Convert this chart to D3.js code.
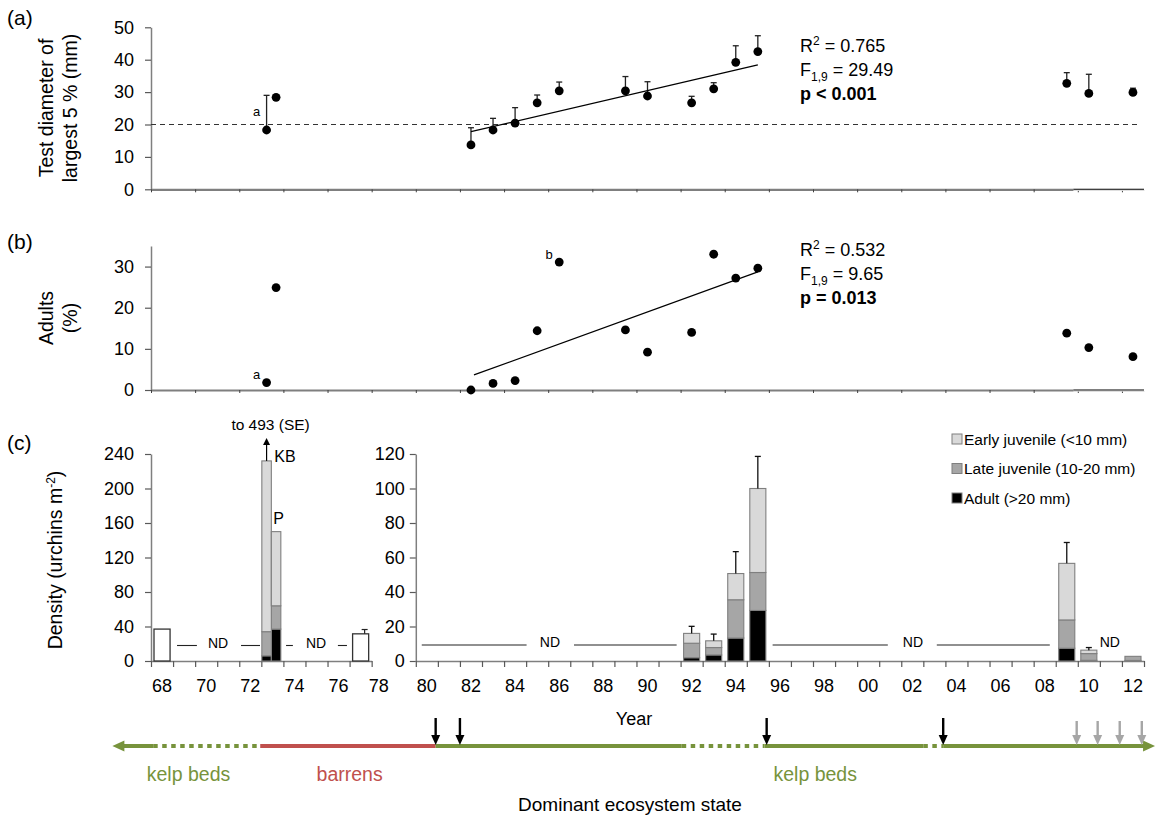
<!DOCTYPE html>
<html>
<head>
<meta charset="utf-8">
<script src="https://cdn.jsdelivr.net/npm/d3@7"></script>
<style>
  body { margin: 0; background: #fff; }
  svg { font-family: "Liberation Sans", Arial, sans-serif; display: block; }
</style>
</head>
<body>
<svg id="chart" width="1157" height="820"></svg>
<script>
// ---------------- data ----------------
// Survey years (1973 sampled at two sites: kelp bed KB and P)
const sampleYears = [1973, 1973, 1982, 1983, 1984, 1985, 1986, 1989, 1990, 1992, 1993, 1994, 1995, 2009, 2010, 2012];
const sampleSites = ["KB", "P", null, null, null, null, null, null, null, null, null, null, null, null, null, null];
// (a) test diameter of largest 5 % (mm) and its SE
const testDiameter   = [18.3, 28.4, 13.7, 18.3, 20.4, 26.7, 30.4, 30.4, 28.8, 26.7, 31.0, 39.2, 42.5, 32.7, 29.6, 29.9];
const testDiameterSE = [10.7, 0, 5.3, 3.6, 4.8, 2.4, 2.7, 4.4, 4.4, 2.0, 1.9, 5.1, 4.9, 3.3, 5.9, 1.3];
// (b) adults (%)
const adultPercent   = [1.8, 24.9, 0, 1.6, 2.3, 14.4, 31.1, 14.6, 9.2, 14.0, 33.0, 27.2, 29.6, 13.8, 10.3, 8.1];
// years used in the regressions
const regressionFrom = 1982, regressionTo = 1995;
const maturityThreshold = 20;

// (c) densities (urchins m-2), stacked by size class
const stackYears   = [1973, 1973, 1992, 1993, 1994, 1995, 2009, 2010, 2012];
const stackSites   = ["KB", "P", null, null, null, null, null, null, null];
const adultDensity = [6, 37, 1.9, 3.5, 13.3, 29.3, 7.4, 0.4, 0.3];
const lateDensity  = [28, 27, 8.4, 4.3, 22.2, 22.0, 16.4, 3.9, 2.4];
const earlyDensity = [198, 86, 5.7, 3.9, 15.2, 48.7, 32.8, 2.0, 0];
const stackSE      = [261, 0, 4.1, 3.9, 12.7, 18.6, 12.1, 1.5, 0];
// (c) total density only (no size classes)
const totalYears   = [1968, 1977];
const totalDensity = [37, 31.5];
const totalSE      = [0, 5];

const sizeKeys   = ["adult", "late", "early"];
const sizeLabels = { early: "Early juvenile (<10 mm)", late: "Late juvenile (10-20 mm)", adult: "Adult (>20 mm)" };
const sizeColors = { early: "#d9d9d9", late: "#a6a6a6", adult: "#000000" };

// no-data stretches (year positions)
const ndLeftSegments  = [[1969.18, 1970.08], [1972.08, 1972.94], [1974.12, 1974.43], [1976.47, 1976.88]];
const ndLeftLabels    = [1971.04, 1975.48];
const ndRightSegments = [[1980.27, 1985.02], [1987.17, 1991.82], [1996.17, 2001.39], [2003.61, 2008.73]];
const ndRightLabels   = [1986.08, 2002.53, 2011.45];

// dominant ecosystem state through time
const stateStart   = [1966.25, 1968.1, 1972.95, 1980.9, 1992.05, 1995.8, 2003.0, 2003.9];
const stateEnd     = [1968.1, 1972.95, 1980.9, 1992.05, 1995.8, 2003.0, 2003.9, 2013.5];
const stateKind    = ["kelp", "kelp", "barrens", "kelp", "kelp", "kelp", "kelp", "kelp"];
const stateCertain = [true, false, true, true, false, true, false, true];
const eventsMajor  = [1980.9, 1982.0, 1995.9, 2003.9];
const eventsMinor  = [2009.95, 2010.9, 2011.9, 2012.9];
const stateNames   = [{ text: "kelp beds", year: 1969.7, kind: "kelp" }, { text: "barrens", year: 1977.0, kind: "barrens" }, { text: "kelp beds", year: 1998.1, kind: "kelp" }];
const stateColors  = { kelp: "#77933c", barrens: "#c0504d" };

// ---------------- scales ----------------
const svg = d3.select("#chart");
const years = d3.range(1968, 2013);
const x = d3.scaleBand().domain(years).range([151, 1144]);
const t = d3.scaleLinear().domain([1968, 2013]).range([151, 1144]);
const site = d3.scaleBand().domain(["KB", "P"]).range([0.5, 19.5]);
const cx = (yv, s) => s ? x(yv) + site(s) + site.bandwidth() / 2 : x(yv) + x.bandwidth() / 2;

const AXIS_GREY = "#7f7f7f";
function styleAxis(g, size) {
  g.select(".domain").attr("stroke", AXIS_GREY).attr("stroke-width", 1.5);
  g.selectAll(".tick line").attr("stroke", "#595959").attr("stroke-width", 1.2);
  g.selectAll(".tick text").attr("fill", "#000").attr("font-size", size || 18).attr("font-family", "Liberation Sans, Arial, sans-serif");
}

const samples = sampleYears.map((yv, i) => ({ year: yv, site: sampleSites[i], diam: testDiameter[i], se: testDiameterSE[i], adult: adultPercent[i] }));

function fit(rows, key) {
  const r = rows.filter(d => d.year >= regressionFrom && d.year <= regressionTo);
  const mx = d3.mean(r, d => d.year), my = d3.mean(r, d => d[key]);
  const b = d3.sum(r, d => (d.year - mx) * (d[key] - my)) / d3.sum(r, d => (d.year - mx) ** 2);
  const a = my - b * mx;
  return [regressionFrom, regressionTo].map(xv => ({ year: xv, v: a + b * xv }));
}

function panelLabel(txt, yPos) {
  svg.append("text").attr("x", 7).attr("y", yPos).attr("font-size", 21).text(txt);
}

function yTitle(lines, cy) {
  const g = svg.append("text").attr("transform", `translate(0,${cy}) rotate(-90)`)
    .attr("text-anchor", "middle").attr("font-size", 19.5);
  lines.forEach((l, i) => g.append("tspan").attr("x", 0).attr("y", 53 + i * 24).text(l));
}

function stats(x0, y0, r2, f, pText) {
  const g = svg.append("g").attr("font-size", 18);
  const a = g.append("text").attr("x", x0).attr("y", y0);
  a.append("tspan").text("R");
  a.append("tspan").attr("dy", -7).attr("font-size", 12).text("2");
  a.append("tspan").attr("dy", 7).text(" = " + r2);
  const b = g.append("text").attr("x", x0).attr("y", y0 + 24);
  b.append("tspan").text("F");
  b.append("tspan").attr("dy", 5).attr("font-size", 12).text("1,9");
  b.append("tspan").attr("dy", -5).text(" = " + f);
  g.append("text").attr("x", x0).attr("y", y0 + 48).attr("font-weight", "bold").text(pText);
}

function scatterXAxis(yPix) {
  const g = svg.append("g").attr("transform", `translate(0,${yPix})`)
    .call(d3.axisBottom(t).tickValues(d3.range(1968, 2014, 2)).tickSize(3).tickSizeOuter(0).tickFormat(""));
  g.select(".domain").attr("stroke", AXIS_GREY).attr("stroke-width", 2.2);
  g.selectAll(".tick line").attr("stroke", "#404040");
  // the most recent stretch of the axis is drawn as a thin black rule
  svg.append("line").attr("x1", t(2009.8)).attr("x2", t(2013) + 1).attr("y1", yPix).attr("y2", yPix)
    .attr("stroke", "#fff").attr("stroke-width", 3);
  svg.append("line").attr("x1", t(2009.8)).attr("x2", t(2013)).attr("y1", yPix).attr("y2", yPix)
    .attr("stroke", "#000").attr("stroke-width", 1.1);
}

// ---------------- (a) test diameter ----------------
const yA = d3.scaleLinear().domain([0, 50]).range([189.3, 27.3]);
panelLabel("(a)", 25);
yTitle(["Test diameter of", "largest 5 % (mm)"], 108);
svg.append("g").attr("transform", "translate(151,0)")
  .call(d3.axisLeft(yA).tickValues(d3.range(0, 51, 10)).tickSize(6).tickSizeOuter(0).tickPadding(11))
  .call(g => styleAxis(g));
scatterXAxis(yA(0));

svg.append("line").attr("x1", t(1968)).attr("x2", t(2012.7))
  .attr("y1", yA(maturityThreshold)).attr("y2", yA(maturityThreshold))
  .attr("stroke", "#333").attr("stroke-width", 1.1).attr("stroke-dasharray", "5,4");

const errA = svg.append("g").attr("stroke", "#222").attr("stroke-width", 1.3);
samples.filter(d => d.se > 0).forEach(d => {
  const xx = cx(d.year, d.site);
  errA.append("line").attr("x1", xx).attr("x2", xx).attr("y1", yA(d.diam)).attr("y2", yA(d.diam + d.se));
  errA.append("line").attr("x1", xx - 3).attr("x2", xx + 3).attr("y1", yA(d.diam + d.se)).attr("y2", yA(d.diam + d.se));
});
svg.append("g").selectAll("circle").data(samples).join("circle")
  .attr("cx", d => cx(d.year, d.site)).attr("cy", d => yA(d.diam)).attr("r", 4.4).attr("fill", "#000");
const lineA = fit(samples, "diam");
svg.append("line").attr("x1", cx(lineA[0].year)).attr("x2", cx(lineA[1].year))
  .attr("y1", yA(lineA[0].v)).attr("y2", yA(lineA[1].v)).attr("stroke", "#000").attr("stroke-width", 1.3);
svg.append("text").attr("x", cx(1973, "KB") - 10).attr("y", yA(testDiameter[0] + testDiameterSE[0] / 2) + 3)
  .attr("font-size", 13).attr("text-anchor", "middle").text("a");
stats(800, 52, "0.765", "29.49", "p < 0.001");

// ---------------- (b) adults ----------------
const yB = d3.scaleLinear().domain([0, 35]).range([390, 246]);
panelLabel("(b)", 249);
yTitle(["Adults", "(%)"], 318);
svg.append("g").attr("transform", "translate(151,0)")
  .call(d3.axisLeft(yB).tickValues([0, 10, 20, 30]).tickSize(6).tickSizeOuter(0).tickPadding(11))
  .call(g => styleAxis(g));
scatterXAxis(yB(0));
svg.append("g").selectAll("circle").data(samples).join("circle")
  .attr("cx", d => cx(d.year, d.site)).attr("cy", d => yB(d.adult)).attr("r", 4.4).attr("fill", "#000");
const lineB = fit(samples, "adult");
svg.append("line").attr("x1", cx(lineB[0].year) + 3).attr("x2", cx(lineB[1].year))
  .attr("y1", yB(lineB[0].v)).attr("y2", yB(lineB[1].v)).attr("stroke", "#000").attr("stroke-width", 1.3);
svg.append("text").attr("x", cx(1973, "KB") - 10).attr("y", yB(adultPercent[0]) - 4)
  .attr("font-size", 13).attr("text-anchor", "middle").text("a");
svg.append("text").attr("x", cx(1986) - 10).attr("y", yB(adultPercent[6]) - 3)
  .attr("font-size", 13).attr("text-anchor", "middle").text("b");
stats(800, 256, "0.532", "9.65", "p = 0.013");

// ---------------- (c) density ----------------
const yCL = d3.scaleLinear().domain([0, 240]).range([661, 454]);
const yCR = d3.scaleLinear().domain([0, 120]).range([661, 454]);
panelLabel("(c)", 450);
{
  const g = svg.append("text").attr("transform", "translate(62,560) rotate(-90)").attr("text-anchor", "middle").attr("font-size", 19.5);
  g.append("tspan").text("Density (urchins m");
  g.append("tspan").attr("dy", -7).attr("font-size", 12).text("-2");
  g.append("tspan").attr("dy", 7).text(")");
}
svg.append("g").attr("transform", `translate(${t(1968)},0)`)
  .call(d3.axisLeft(yCL).tickValues(d3.range(0, 241, 40)).tickSize(6).tickSizeOuter(0).tickPadding(11))
  .call(g => styleAxis(g));
svg.append("g").attr("transform", `translate(${t(1980)},0)`)
  .call(d3.axisLeft(yCR).tickValues(d3.range(0, 121, 20)).tickSize(6).tickSizeOuter(0).tickPadding(5))
  .call(g => styleAxis(g));

// x axes: yearly tick marks between categories, labels every second year
function densityXAxis(y0, y1) {
  const sub = t.copy().domain([y0, y1]).range([t(y0), t(y1)]);
  svg.append("g").attr("transform", `translate(0,${yCL(0)})`)
    .call(d3.axisBottom(sub).tickValues(d3.range(y0, y1 + 1)).tickSize(6).tickSizeOuter(0).tickFormat(""))
    .call(g => styleAxis(g));
  const labYears = d3.range(y0, y1, 2).filter(v => v <= 2012);
  svg.append("g").attr("transform", `translate(0,${yCL(0)})`)
    .call(d3.axisBottom(x).tickValues(labYears).tickSize(0).tickPadding(18)
      .tickFormat(v => String(v % 100).padStart(2, "0")))
    .call(g => { g.select(".domain").remove(); styleAxis(g); });
}
densityXAxis(1968, 1978);
svg.append("g").attr("transform", `translate(0,${yCL(0)})`)
  .call(d3.axisBottom(x).tickValues([1978]).tickSize(0).tickPadding(18).tickFormat(v => String(v % 100)))
  .call(g => { g.select(".domain").remove(); styleAxis(g); g.selectAll(".tick text").attr("dx", -4); });
densityXAxis(1980, 2013);

svg.append("text").attr("x", 634).attr("y", 725).attr("text-anchor", "middle").attr("font-size", 18).text("Year");

// total-only bars
const barPad = 3, barW = x.bandwidth() - 2 * barPad;
totalYears.forEach((yv, i) => {
  svg.append("rect").attr("x", x(yv) + barPad).attr("width", barW)
    .attr("y", yCL(totalDensity[i])).attr("height", yCL(0) - yCL(totalDensity[i]))
    .attr("fill", "#fff").attr("stroke", "#333").attr("stroke-width", 1.3);
  if (totalSE[i] > 0) {
    const xx = x(yv) + x.bandwidth() / 2 + 4, y1 = yCL(totalDensity[i] + totalSE[i]);
    svg.append("line").attr("x1", xx).attr("x2", xx).attr("y1", yCL(totalDensity[i])).attr("y2", y1).attr("stroke", "#222").attr("stroke-width", 1.2);
    svg.append("line").attr("x1", xx - 3).attr("x2", xx + 3).attr("y1", y1).attr("y2", y1).attr("stroke", "#222").attr("stroke-width", 1.2);
  }
});

// stacked size-class bars
const stackRows = stackYears.map((yv, i) => ({ year: yv, site: stackSites[i], adult: adultDensity[i], late: lateDensity[i], early: earlyDensity[i], se: stackSE[i] }));
const series = d3.stack().keys(sizeKeys)(stackRows);
const yFor = d => d.year < 1980 ? yCL : yCR;
const barX = d => d.site ? x(d.year) + site(d.site) : x(d.year) + barPad;
const barWidth = d => d.site ? site.bandwidth() : barW;
svg.append("g").selectAll("g").data(series).join("g")
  .attr("fill", s => sizeColors[s.key])
  .selectAll("rect").data(s => s.filter(p => p[1] > p[0])).join("rect")
  .attr("x", p => barX(p.data)).attr("width", p => barWidth(p.data))
  .attr("y", p => yFor(p.data)(p[1])).attr("height", p => yFor(p.data)(p[0]) - yFor(p.data)(p[1]))
  .attr("stroke", "#7f7f7f").attr("stroke-width", 1.1);

const clipTop = 438;
stackRows.filter(d => d.se > 0).forEach(d => {
  const sc = yFor(d), total = d.adult + d.late + d.early;
  const xx = barX(d) + barWidth(d) / 2;
  const yTop = sc(total + d.se);
  if (yTop < clipTop) {
    svg.append("line").attr("x1", xx).attr("x2", xx).attr("y1", sc(total)).attr("y2", clipTop + 6).attr("stroke", "#000").attr("stroke-width", 1.2);
    svg.append("path").attr("d", `M${xx - 3.5},${clipTop + 7}L${xx},${clipTop}L${xx + 3.5},${clipTop + 7}Z`).attr("fill", "#000");
    svg.append("text").attr("x", xx + 4).attr("y", clipTop - 8).attr("text-anchor", "middle").attr("font-size", 15.5)
      .text(`to ${Math.round(total + d.se)} (SE)`);
  } else {
    svg.append("line").attr("x1", xx).attr("x2", xx).attr("y1", sc(total)).attr("y2", yTop).attr("stroke", "#111").attr("stroke-width", 1.3);
    svg.append("line").attr("x1", xx - 3).attr("x2", xx + 3).attr("y1", yTop).attr("y2", yTop).attr("stroke", "#111").attr("stroke-width", 1.3);
  }
});
// site labels on the 1973 bars
{
  const kb = stackRows[0], p = stackRows[1];
  svg.append("text").attr("x", barX(kb) + barWidth(kb) + 3).attr("y", yCL(kb.adult + kb.late + kb.early) + 1)
    .attr("font-size", 16).text("KB");
  svg.append("text").attr("x", barX(p) + 2).attr("y", yCL(p.adult + p.late + p.early) - 8)
    .attr("font-size", 16).text("P");
}

// ND (no data) markers
function ndMarks(segments, labels, yPix) {
  segments.forEach(s => svg.append("line").attr("x1", t(s[0])).attr("x2", t(s[1])).attr("y1", yPix).attr("y2", yPix)
    .attr("stroke", "#222").attr("stroke-width", 1.1));
  labels.forEach(l => svg.append("text").attr("x", t(l)).attr("y", yPix + 2).attr("text-anchor", "middle")
    .attr("font-size", 14).text("ND"));
}
ndMarks(ndLeftSegments, ndLeftLabels, 645.5);
ndMarks(ndRightSegments, ndRightLabels, 645);

// legend
const legendKeys = ["early", "late", "adult"];
legendKeys.forEach((k, i) => {
  const yy = 439 + i * 29.5;
  svg.append("rect").attr("x", 952).attr("y", yy - 5).attr("width", 10).attr("height", 10)
    .attr("fill", sizeColors[k]).attr("stroke", "#7f7f7f").attr("stroke-width", 1);
  svg.append("text").attr("x", 964).attr("y", yy + 5.5).attr("font-size", 15.5).text(sizeLabels[k]);
});

// ---------------- dominant ecosystem state ----------------
const tlY = 746;
stateStart.forEach((s, i) => {
  let x1 = t(s), x2 = t(stateEnd[i]);
  if (i === 0) x1 += 8;
  if (i === stateStart.length - 1) x2 -= 8;
  svg.append("line").attr("x1", x1).attr("x2", x2).attr("y1", tlY).attr("y2", tlY)
    .attr("stroke", stateColors[stateKind[i]]).attr("stroke-width", 4)
    .attr("stroke-dasharray", stateCertain[i] ? null : "4.5,4.5");
});
{
  const xl = t(stateStart[0]), xr = t(stateEnd[stateEnd.length - 1]);
  svg.append("path").attr("d", `M${xl},${tlY}L${xl + 12},${tlY - 5.5}L${xl + 12},${tlY + 5.5}Z`).attr("fill", stateColors.kelp);
  svg.append("path").attr("d", `M${xr},${tlY}L${xr - 12},${tlY - 5.5}L${xr - 12},${tlY + 5.5}Z`).attr("fill", stateColors.kelp);
}
function downArrow(xx, y0, color) {
  svg.append("line").attr("x1", xx).attr("x2", xx).attr("y1", y0).attr("y2", tlY - 9).attr("stroke", color).attr("stroke-width", 2.4);
  svg.append("path").attr("d", `M${xx - 4.5},${tlY - 11}L${xx + 4.5},${tlY - 11}L${xx},${tlY - 1}Z`).attr("fill", color);
}
eventsMajor.forEach(e => downArrow(t(e), 718, "#000"));
eventsMinor.forEach(e => downArrow(t(e), 721, "#a6a6a6"));
stateNames.forEach(s => svg.append("text").attr("x", t(s.year)).attr("y", 781).attr("text-anchor", "middle")
  .attr("font-size", 19.5).attr("fill", stateColors[s.kind]).text(s.text));
svg.append("text").attr("x", 630).attr("y", 811).attr("text-anchor", "middle").attr("font-size", 19).text("Dominant ecosystem state");
</script>
</body>
</html>
